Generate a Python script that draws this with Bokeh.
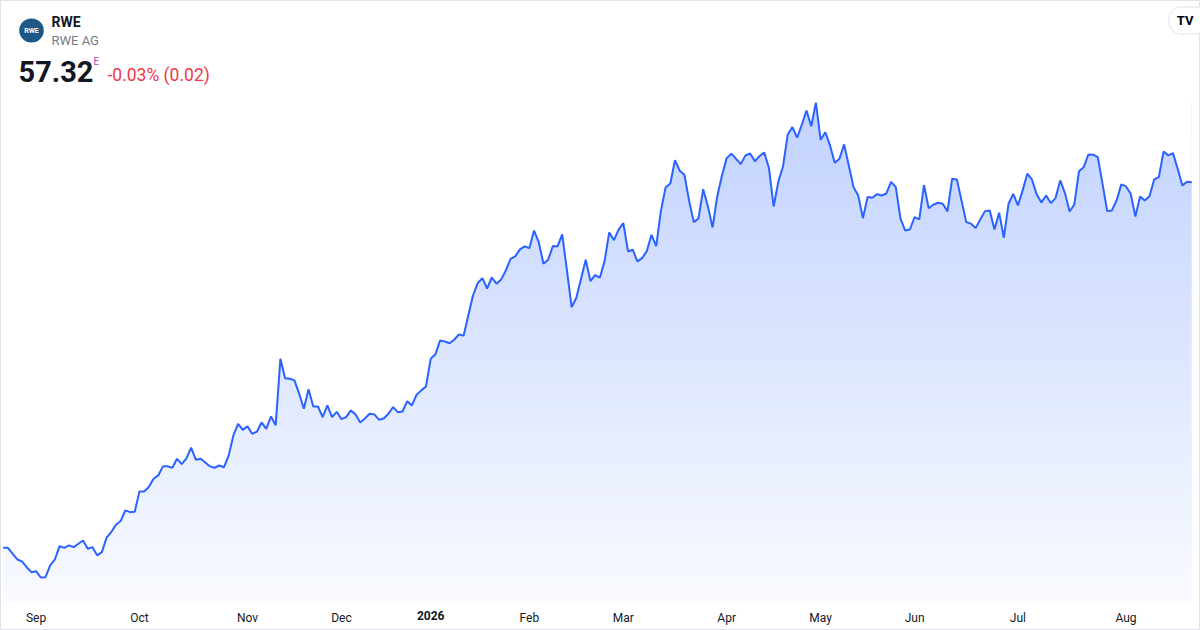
import numpy as np
import pandas as pd
from bokeh.plotting import figure
from bokeh.models import Range1d, LinearAxis, FixedTicker, Label
from bokeh.embed import file_html
from bokeh.resources import INLINE

# ---------------- data ----------------
SYMBOL = "RWE"
NAME = "RWE AG"
LAST = "57.32"
FLAG = "E"
CHANGE = "-0.03% (0.02)"

START = "2025-08-21"
END = "2026-08-21"
HOLIDAYS = ["2025-12-24", "2025-12-25", "2025-12-26", "2025-12-31",
            "2026-01-01", "2026-04-03", "2026-04-06", "2026-05-01"]

PRICES = [
    36.00, 36.00, 35.66, 35.32, 35.21, 34.87, 34.58, 34.64, 34.27, 34.29,
    34.97, 35.32, 36.10, 36.00, 36.14, 36.04, 36.24, 36.43, 35.95, 36.04,
    35.56, 35.75, 36.59, 36.92, 37.35, 37.56, 38.18, 38.08, 38.10, 39.29,
    39.29, 39.54, 40.03, 40.22, 40.75, 40.75, 40.67, 41.19, 40.88, 41.21,
    41.84, 41.14, 41.19, 40.98, 40.75, 40.67, 40.80,
    40.70, 41.39, 42.55, 43.23, 42.88, 43.08, 42.65, 42.77, 43.31, 42.94,
    43.66, 43.14, 47.02, 45.89, 45.86, 45.76, 44.98, 44.11, 45.25, 44.24,
    44.24, 43.62, 44.30, 43.62, 43.93, 43.50, 43.62, 44.01, 43.78, 43.31,
    43.54, 43.82, 43.78, 43.47, 43.54, 43.82, 44.20, 43.91, 43.95, 44.55,
    44.30, 44.93, 45.18, 45.41, 47.02,
    47.28, 48.09, 48.03, 47.93, 48.13, 48.44, 48.37, 49.55, 50.71, 51.43,
    51.72, 51.12, 51.76, 51.40, 51.65, 52.17, 52.85, 52.99, 53.40, 53.57,
    53.47, 54.50, 53.82, 52.56, 52.80, 53.59, 53.57, 54.27, 52.17, 50.03,
    50.58, 51.69, 52.80, 51.55, 51.90, 51.75, 52.70, 54.39, 53.94, 54.55,
    54.93, 53.28, 53.38, 52.70, 52.89, 53.30, 54.25, 53.59, 55.65, 57.01,
    57.24, 58.60, 57.99, 57.75, 56.24, 54.99, 55.20, 56.91, 55.92, 54.68,
    56.50, 57.71, 58.72, 58.98, 58.68, 58.37, 58.88, 58.99, 58.54, 58.84,
    59.05, 58.14, 55.90, 57.35, 58.25, 60.10, 60.53, 59.91, 60.68, 61.50,
    60.58, 61.95, 59.79, 60.23, 59.46, 58.45, 58.68, 59.52, 58.29, 57.03,
    56.54, 55.22, 56.45, 56.41, 56.62, 56.54, 56.66, 57.34, 57.03, 55.19,
    54.50, 54.56, 55.28, 55.15, 57.15, 55.80, 56.00, 56.12, 56.06, 55.61,
    57.52, 57.48, 56.24, 54.99, 54.90, 54.64, 55.15, 55.63, 55.67, 54.56,
    55.54,
    54.08, 56.06, 56.64, 55.96, 56.84, 57.81, 57.46, 56.60, 56.14, 56.54,
    56.10, 56.39, 57.42, 56.68, 55.61, 56.02, 57.96, 58.19, 58.93, 58.92,
    58.78, 57.23, 55.63, 55.67, 56.25, 57.19, 57.07, 56.64, 55.32, 56.49,
    56.25, 56.50, 57.48, 57.61, 59.11, 58.88, 59.01, 58.10, 57.13, 57.34,
    57.32,
]

# ---------------- layout constants ----------------
W, H = 1200, 630
X_LO, X_HI = -0.575, 254.86
Y_LO, Y_HI = 31.18, 67.91
AXIS_Y = 32.70          # where the date labels hang
LINE = "#2962ff"
TEXT = "#131722"
FONT = "Roboto"

dates = pd.bdate_range(START, END)
dates = dates[~dates.isin(pd.to_datetime(HOLIDAYS))]
n = min(len(dates), len(PRICES))
dates = dates[:n]
prices = np.array(PRICES[:n])
idx = np.arange(n)

month_ticks, year_ticks, overrides = [], [], {}
for i in range(1, n):
    if dates[i].month != dates[i - 1].month:
        if dates[i].month == 1:
            year_ticks.append(i)
            overrides[i] = str(dates[i].year)
        else:
            month_ticks.append(i)
            overrides[i] = dates[i].strftime("%b")

p = figure(width=W, height=H, x_range=Range1d(X_LO, X_HI), y_range=Range1d(Y_LO, Y_HI),
           x_axis_type=None, y_axis_type=None, output_backend="svg",
           toolbar_location=None, min_border=0, title=None)
p.outline_line_color = "#e0e3eb"
p.background_fill_color = "white"
p.border_fill_color = "white"

# gradient under the line
grad_top = float(prices.max())
rows = 256
alpha = np.linspace(0.03, 0.29, rows)
img = np.zeros((rows, 1), dtype=np.uint32)
view = img.view(dtype=np.uint8).reshape((rows, 1, 4))
view[:, 0, 0] = 41
view[:, 0, 1] = 98
view[:, 0, 2] = 255
view[:, 0, 3] = (alpha * 255).astype(np.uint8)
p.image_rgba(image=[img], x=0, y=AXIS_Y, dw=n - 1, dh=grad_top - AXIS_Y)
p.varea(x=idx, y1=prices, y2=grad_top + 1.0, fill_color="white", fill_alpha=1.0)
p.line(idx, prices, line_color=LINE, line_width=2)

for ticks, style in ((month_ticks, "normal"), (year_ticks, "bold")):
    ax = LinearAxis(ticker=FixedTicker(ticks=ticks), fixed_location=AXIS_Y,
                    major_label_overrides={k: overrides[k] for k in ticks})
    ax.axis_line_color = None
    ax.major_tick_line_color = None
    ax.minor_tick_line_color = None
    ax.major_tick_out = 0
    ax.major_tick_in = 0
    ax.major_label_standoff = 7
    ax.major_label_text_font = FONT
    ax.major_label_text_font_size = "12px"
    ax.major_label_text_color = TEXT
    ax.major_label_text_font_style = style
    p.add_layout(ax, "below")

def lab(text, x, y, size, color, style="normal", align="left", **kw):
    p.add_layout(Label(text=text, x=x, y=H - y, x_units="screen", y_units="screen",
                       text_font=FONT, text_font_size=size, text_color=color,
                       text_font_style=style, text_align=align, text_baseline="middle", **kw))

lab("RWE", 31, 30, "7px", "white", "bold", "center",
    background_fill_color="#1d5786", border_radius=12,
    padding=dict(left=5, right=5, top=8, bottom=8))
lab(SYMBOL, 51, 21, "14px", TEXT, "bold")
lab(NAME, 51, 40, "13px", "#787b86")
lab(LAST, 18, 71, "29px", TEXT, "bold")
lab(FLAG, 93, 61, "10px", "#ab47bc")
lab(CHANGE, 107, 74, "17.5px", "#f23645")
lab("TV", 1207, 20, "13px", "#000000", "bold", "right",
    background_fill_color="white", border_line_color="#e0e3eb", border_radius=12,
    padding=dict(left=8, right=14, top=6, bottom=6))

open("out.html", "w").write(file_html(p, INLINE))
